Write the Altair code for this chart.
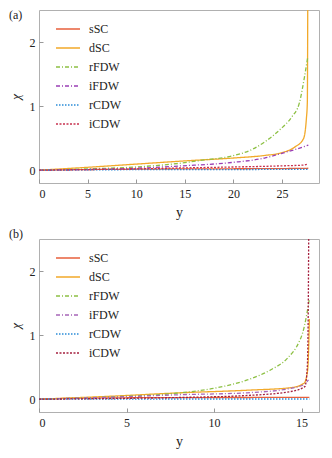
import altair as alt
import pandas as pd

names = ["sSC", "dSC", "rFDW", "iFDW", "rCDW", "iCDW"]
colors_a = ["#e8603c", "#f2a92a", "#8dc044", "#9b3fb5", "#2b8cd8", "#c8324f"]
colors_b = ["#e8603c", "#f2a92a", "#8dc044", "#a766b8", "#2b8cd8", "#a5203f"]
dashes = [[1, 0], [1, 0], [4, 2, 1, 2], [4, 2, 1, 2], [1.5, 1.5], [2, 1.5]]

# ---- panel (a) ----
a_sSC_x = [0, 5, 10, 15, 20, 25, 27.7]
a_sSC_y = [0, 0.01, 0.015, 0.02, 0.022, 0.025, 0.03]
a_dSC_x = [0, 5, 10, 15, 20, 23.2, 24.9, 26.3, 27.2, 27.5, 27.6, 27.65]
a_dSC_y = [0, 0.045, 0.095, 0.145, 0.19, 0.23, 0.27, 0.36, 0.49, 0.8, 1.06, 3.0]
a_rFDW_x = [0, 5, 10, 14.6, 17, 19.8, 22, 23.2, 24.9, 26, 26.8, 27.3, 27.65]
a_rFDW_y = [0, 0.02, 0.05, 0.11, 0.16, 0.22, 0.33, 0.44, 0.65, 0.83, 1.06, 1.45, 1.77]
a_iFDW_x = [0, 5, 10, 14.6, 19.8, 23.2, 24.9, 26.5, 27.7]
a_iFDW_y = [0, 0.01, 0.03, 0.067, 0.12, 0.19, 0.26, 0.33, 0.39]
a_rCDW_x = [0, 5, 10, 15, 20, 25, 27.7]
a_rCDW_y = [0, 0.005, 0.008, 0.01, 0.01, 0.012, 0.012]
a_iCDW_x = [0, 5, 10, 14.6, 20, 24.9, 27.2, 27.7]
a_iCDW_y = [0, 0.01, 0.02, 0.035, 0.05, 0.067, 0.08, 0.1]

# ---- panel (b) ----
b_sSC_x = [0, 2, 5, 10, 15, 15.45]
b_sSC_y = [0, 0.015, 0.022, 0.026, 0.027, 0.027]
b_dSC_x = [0, 4, 8.1, 11.9, 14.4, 15.15, 15.35, 15.42, 15.45]
b_dSC_y = [0, 0.045, 0.1, 0.14, 0.18, 0.25, 0.45, 0.9, 1.25]
b_rFDW_x = [0, 4, 8.1, 10, 11.9, 13.25, 14.2, 14.87, 15.06, 15.25, 15.44]
b_rFDW_y = [0, 0.035, 0.1, 0.17, 0.3, 0.46, 0.64, 0.9, 1.03, 1.25, 1.55]
b_iFDW_x = [0, 4, 8.1, 11.9, 14.4, 15.15, 15.4]
b_iFDW_y = [0, 0.03, 0.07, 0.1, 0.17, 0.23, 0.3]
b_rCDW_x = [0, 5, 10, 15, 15.45]
b_rCDW_y = [0, 0.002, 0.003, 0.003, 0.003]
b_iCDW_x = [0, 4, 8.1, 11.9, 14.4, 15.2, 15.33, 15.38, 15.42]
b_iCDW_y = [0, 0.01, 0.027, 0.058, 0.12, 0.2, 0.5, 1.2, 3.0]

a_series = [(a_sSC_x, a_sSC_y), (a_dSC_x, a_dSC_y), (a_rFDW_x, a_rFDW_y),
            (a_iFDW_x, a_iFDW_y), (a_rCDW_x, a_rCDW_y), (a_iCDW_x, a_iCDW_y)]
b_series = [(b_sSC_x, b_sSC_y), (b_dSC_x, b_dSC_y), (b_rFDW_x, b_rFDW_y),
            (b_iFDW_x, b_iFDW_y), (b_rCDW_x, b_rCDW_y), (b_iCDW_x, b_iCDW_y)]

a_xticks = [0, 5, 10, 15, 20, 25]
b_xticks = [0, 5, 10, 15]
yticks = [0, 1, 2]

FONT = "Liberation Serif"


def build_df(series):
    rows = []
    for name, (xs, ys) in zip(names, series):
        for i, (x, y) in enumerate(zip(xs, ys)):
            rows.append({"series": name, "x": x, "v": y, "i": i})
    return pd.DataFrame(rows)


def panel(series, xmax, xticks, colors, tag):
    df = build_df(series)
    leg = alt.Legend(
        title=None, orient="none", legendX=16, legendY=6,
        symbolType="stroke", symbolSize=576, symbolStrokeWidth=1.3,
        labelFont=FONT, labelFontSize=12, labelColor="#222222",
        rowPadding=-3, labelOffset=8, padding=0,
    )
    lines = alt.Chart(df).mark_line(clip=True, strokeWidth=1.3, interpolate="monotone").encode(
        x=alt.X("x:Q", scale=alt.Scale(domain=[0, xmax], nice=False, zero=False),
                axis=alt.Axis(values=xticks, title="y", format="d", offset=-4, tickSize=4,
                              labelPadding=5, titlePadding=6, domain=False, grid=False,
                              tickColor="#999999", labelFont=FONT, labelFontSize=12,
                              labelColor="#222222", titleFont=FONT, titleFontSize=14,
                              titleFontWeight="normal", titleColor="#222222")),
        y=alt.Y("v:Q", scale=alt.Scale(domain=[-0.2, 2.5], nice=False, zero=False),
                axis=alt.Axis(values=yticks, title="χ", format="d", offset=-4, tickSize=4,
                              labelPadding=4, titlePadding=7, domain=False, grid=False,
                              tickColor="#999999", labelFont=FONT, labelFontSize=12,
                              labelColor="#222222", titleFont=FONT, titleFontSize=13,
                              titleFontWeight="normal", titleFontStyle="italic",
                              titleColor="#222222")),
        color=alt.Color("series:N", scale=alt.Scale(domain=names, range=colors), legend=leg),
        strokeDash=alt.StrokeDash("series:N", scale=alt.Scale(domain=names, range=dashes), legend=leg),
        order="i:Q",
    )
    label = alt.Chart(pd.DataFrame({"t": [tag]})).mark_text(
        align="left", baseline="top", font=FONT, fontSize=12, color="#222222"
    ).encode(text="t:N", x=alt.value(-30), y=alt.value(-10 if tag == "(b)" else 0))
    return alt.layer(lines, label).properties(width=280, height=173)


pa = panel(a_series, 28.8, a_xticks, colors_a, "(a)")
pb = panel(b_series, 16.0, b_xticks, colors_b, "(b)")

chart = alt.vconcat(pa, pb, spacing=7).resolve_scale(color="independent", strokeDash="independent").properties(
    padding=0
).configure_view(stroke="#b0b0b0", strokeWidth=1)

chart.save("out.html", embed_options={"renderer": "svg", "actions": False})
